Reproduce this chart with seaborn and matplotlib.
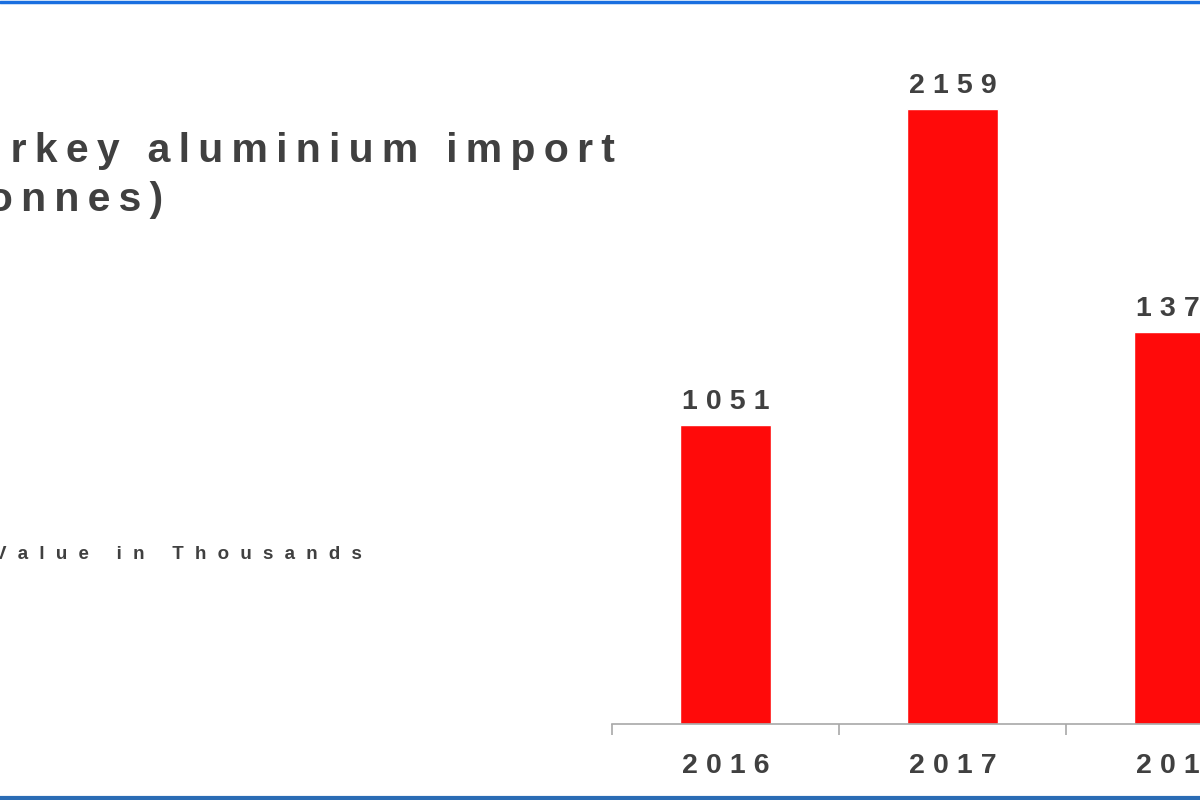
import matplotlib
matplotlib.use("Agg")
import matplotlib.pyplot as plt
import seaborn as sns
import pandas as pd
from matplotlib.lines import Line2D

years = ["2016", "2017", "2018"]
imports = [1051, 2159, 1378]
title_lines = ["Turkey aluminium import", "(tonnes)"]
note = "Value in Thousands"


def spaced(s, gap):
    # wide letter spacing as in the original slide
    return gap.join(s)


THIN = "\u2009"
HAIR = "\u200A"

sns.set_style("white")
plt.rcParams["font.family"] = ["Liberation Sans", "DejaVu Sans"]

grey = "#404040"
df = pd.DataFrame({"year": years, "value": imports})

fig = plt.figure(figsize=(12, 8), dpi=100)
ax = fig.add_axes([612 / 1200, 76 / 800, 681 / 1200, 0.89])

sns.barplot(data=df, x="year", y="value", color="#ff0a0a", saturation=1,
            width=0.4, ax=ax)
ax.set_xlim(-0.5, 2.5)
ax.set_ylim(0, 2500)
ax.set_xlabel("")
ax.set_ylabel("")
ax.set_yticks([])
for s in ["top", "left", "right"]:
    ax.spines[s].set_visible(False)
ax.spines["bottom"].set_color("#a8a8a8")
ax.spines["bottom"].set_linewidth(1.2)

# boundary ticks between categories
ax.set_xticks([-0.5, 0.5, 1.5, 2.5], minor=True)
ax.tick_params(axis="x", which="minor", bottom=True, length=8, width=1.2,
               color="#a8a8a8", direction="out")
ax.set_xticks(range(len(years)))
ax.set_xticklabels([spaced(y, THIN + HAIR) for y in years])
ax.tick_params(axis="x", which="major", length=0, pad=21, labelsize=20.5,
               labelcolor=grey)
for lbl in ax.get_xticklabels():
    lbl.set_fontweight("bold")

for c in ax.containers:
    ax.bar_label(c, labels=[spaced(str(v), THIN + HAIR) for v in imports],
                 padding=7, fontsize=20.5, fontweight="bold", color=grey)

title = "\n".join(spaced(t, THIN) for t in title_lines)
fig.text(615 / 1200, 1 - 211 / 800, title, ha="right", va="baseline",
         multialignment="left", fontsize=29.5, fontweight="bold", color=grey,
         linespacing=1.35)
fig.text(-6 / 1200, 1 - 559 / 800, spaced(note, THIN * 3), ha="left",
         va="baseline", fontsize=13.5, fontweight="bold", color=grey)

# blue frame lines at top and bottom
fig.add_artist(Line2D([0, 1], [0.998, 0.998], color="#1a6fe0", lw=2.5,
                      transform=fig.transFigure))
fig.add_artist(Line2D([0, 1], [0.003, 0.003], color="#2a6cb5", lw=3,
                      transform=fig.transFigure))

fig.savefig("out.png", dpi=100)
